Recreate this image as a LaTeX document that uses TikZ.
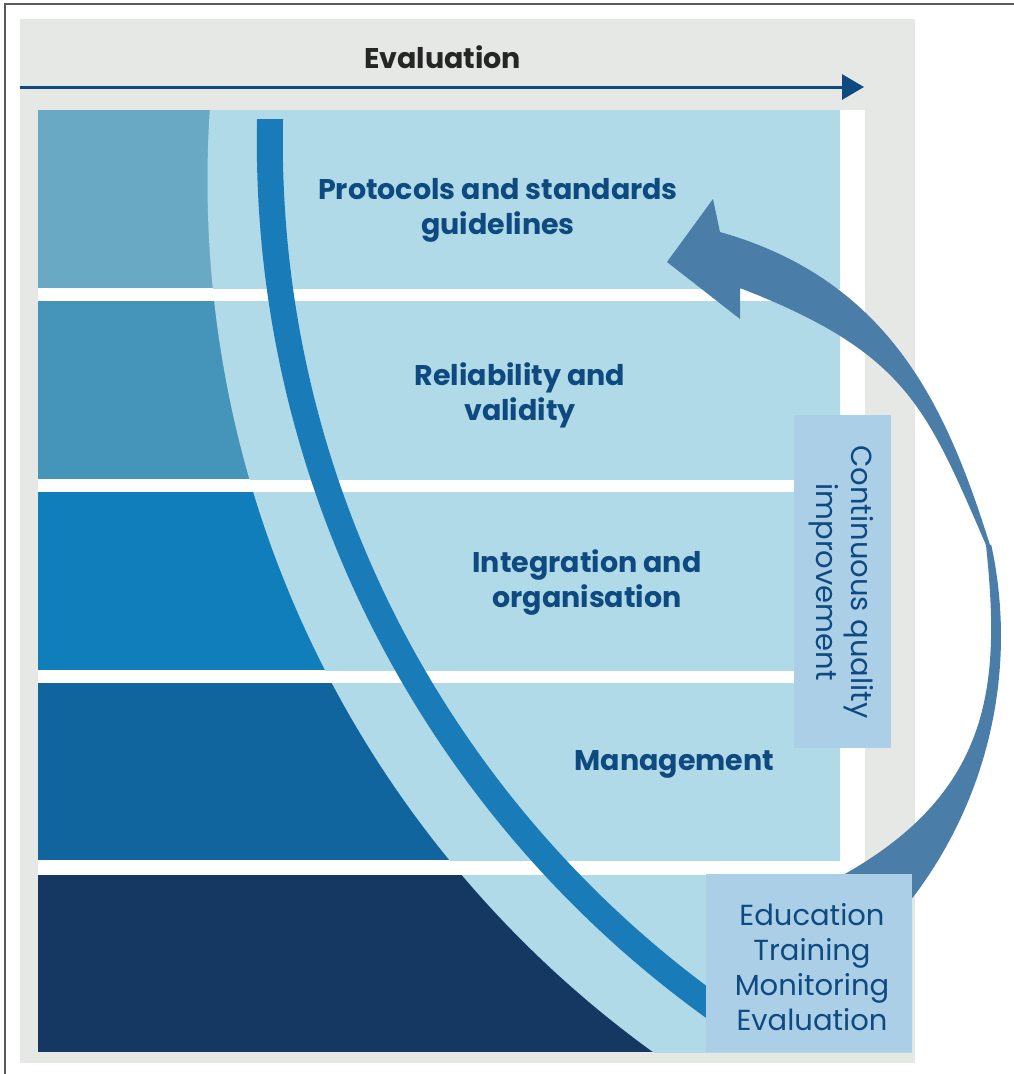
\documentclass[tikz,border=0pt]{standalone}
\usepackage{fontspec}
\setmainfont{Poppins}
\usetikzlibrary{arrows.meta}
\definecolor{framegray}{HTML}{5A5A5A}
\definecolor{panel}{HTML}{E6E8E6}
\definecolor{lightband}{HTML}{B0DAE7}
\definecolor{dkA}{HTML}{6AA9C4}
\definecolor{dkB}{HTML}{4595BB}
\definecolor{dkC}{HTML}{0F7EBA}
\definecolor{dkD}{HTML}{11659E}
\definecolor{dkE}{HTML}{153863}
\definecolor{strokeblue}{HTML}{1A7BB9}
\definecolor{bigarrow}{HTML}{4A7EA9}
\definecolor{boxfill}{HTML}{ABCFE6}
\definecolor{txtblue}{HTML}{0E4A80}
\tikzset{
  title/.style={text=txtblue, font=\fontsize{28.5}{35}\selectfont\bfseries, align=center, inner sep=0pt},
  lightbox/.style={fill=boxfill, inner sep=0pt},
  lighttext/.style={text=txtblue, font=\fontsize{29}{35}\selectfont, align=center, inner sep=0pt},
}
\begin{document}
\begin{tikzpicture}[x=1pt,y=-1pt]
\useasboundingbox (0,0) rectangle (1013,1074);
% outer frame
\draw[framegray, line width=1.5pt] (5,4) rectangle (1040,1100);
% panel
\fill[panel] (20,19) rectangle (915,1063);
\fill[white] (38,110) rectangle (865,1052);
% rows
\foreach \ya/\yb/\xr/\col in {110/288/840/dkA, 301/479/840/dkB, 492/670/840/dkC, 683/860/840/dkD, 875/1052/912/dkE}{
  \fill[\col] (38,\ya) rectangle (\xr,\yb);
  \begin{scope}
    \clip (38,\ya) rectangle (\xr,\yb);
    \fill[lightband] (1281.5,181) circle (1074);
  \end{scope}
}
% thick curved stroke (ring segment)
\begin{scope}
  \clip (38,119) rectangle (706,1060);
  \fill[strokeblue, even odd rule] (1336.4,141.3) circle (1079.6) (1336.4,141.3) circle (1053.6);
\end{scope}
% evaluation arrow
\coordinate (evs) at (20,87);
\coordinate (eve) at (864,87);
\draw[txtblue, line width=3pt, -{Triangle[length=22pt,width=25pt]}] (evs) -- (eve);
\node[text=black!85, font=\fontsize{28.5}{30}\selectfont\bfseries, inner sep=0pt] (evl) at (442.5,57) {Evaluation};
% big curved arrow
\fill[bigarrow] (900,915) -- (912,897)
  -- plot[domain=37.3:-12.2, samples=50] ({569+432*cos(\x)},{636+432*sin(\x)})
  -- (990,545) .. controls (948,412) and (893,281) .. (720,232)
  -- (713,199) -- (667,262) -- (740,319) -- (740,288)
  .. controls (907,353) and (926,407) .. (986,545)
  .. controls (1000,680) and (995,790) .. (843,875)
  -- (830,890) -- cycle;
% labels
\node[title] (p1) at (498,210) {Protocols and standards\\guidelines};
\node[title] (p2) at (520,395) {Reliability and\\validity};
\node[title] (p3) at (587,582) {Integration and\\organisation};
\node[title] (p4) at (674.5,764) {Management};
\node[lightbox, minimum width=206pt, minimum height=178pt] (etmebox) at (809,963) {};
\node[lighttext] (etme) at (812,967) {Education\\Training\\Monitoring\\Evaluation};
\node[lightbox, minimum width=97pt, minimum height=333pt] (cqibox) at (842.5,581.5) {};
\node[lighttext, rotate=-90] (cqi) at (841,582) {Continuous quality\\improvement};
\end{tikzpicture}
\end{document}
